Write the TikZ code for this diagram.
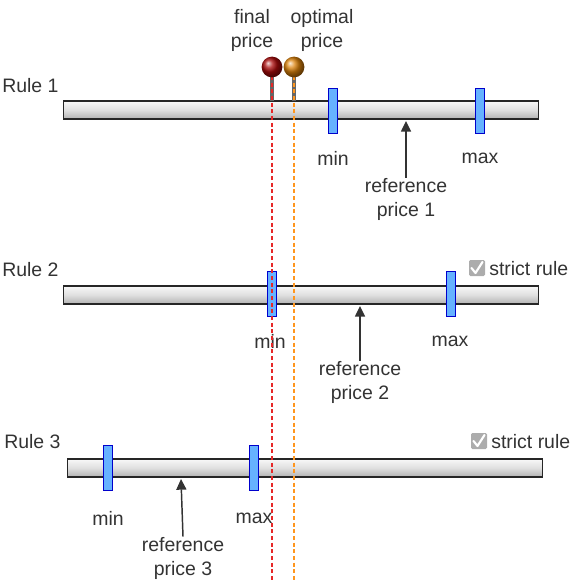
\documentclass[tikz,border=0pt]{standalone}
\usepackage{fontspec}
\setmainfont{Liberation Sans}
\usetikzlibrary{arrows.meta,shadings}
\definecolor{txt}{RGB}{51,51,51}
\definecolor{mfill}{RGB}{102,178,255}
\definecolor{mdraw}{RGB}{0,0,204}
\definecolor{redl}{RGB}{230,40,40}
\definecolor{orgl}{RGB}{255,150,30}
\tikzset{
  lbl/.style={text=txt,font=\fontsize{14.6}{18}\selectfont,inner sep=0pt,align=center},
  barbox/.style={draw=black!85,line width=0.9pt,top color=gray!5,bottom color=gray!60,middle color=gray!25,minimum height=13.5pt,inner sep=0pt,anchor=west},
  marker/.style={draw=mdraw,fill=mfill,line width=0.9pt,minimum width=7pt,minimum height=34pt,inner sep=0pt},
  refarrow/.style={draw=black!80,line width=1.1pt,-{Triangle[width=7.5pt,length=8pt]}},
  chk/.style={fill=gray!65,rounded corners=1pt,minimum size=12pt,inner sep=0pt},
}
\begin{document}
\begin{tikzpicture}[x=0.75pt,y=-0.75pt]
\useasboundingbox (0,0) rectangle (576,581);
% ---------- Rule 1
\node[lbl,anchor=west] (r1) at (2,86) {Rule 1};
\node[barbox,minimum width=356pt] (b1) at (63,110) {};
\node[marker] (m1a) at (333,111) {};
\node[marker] (m1b) at (480,111) {};
\node[lbl] (min1) at (333,158) {min};
\node[lbl] (max1) at (480,158) {max};
\node[lbl] (ref1) at (406,199) {reference\\price 1};
\coordinate (t1) at (406,121);
\draw[refarrow] (ref1.north) -- (t1);
% ---------- Rule 2
\node[lbl,anchor=west] (r2) at (2,270) {Rule 2};
\node[barbox,minimum width=356pt] (b2) at (63,295) {};
\node[marker] (m2a) at (272,294) {};
\node[marker] (m2b) at (451,294) {};
\node[lbl] (min2) at (270,341) {min};
\node[lbl] (max2) at (450,341) {max};
\node[lbl] (ref2) at (360,382) {reference\\price 2};
\coordinate (t2) at (360,306);
\draw[refarrow] (ref2.north) -- (t2);
\node[chk] (c2) at (477,268) {};
\draw[white,line width=1.6pt,line cap=round,line join=round] (471.5,268) -- (475.5,273) -- (482.5,262);
\node[lbl,anchor=west] (s2) at (489,269) {strict rule};
% ---------- Rule 3
\node[lbl,anchor=west] (r3) at (4,442) {Rule 3};
\node[barbox,minimum width=356pt] (b3) at (67,468) {};
\node[marker] (m3a) at (108,468) {};
\node[marker] (m3b) at (254,468) {};
\node[lbl] (min3) at (108,518) {min};
\node[lbl] (max3) at (254,518) {max};
\node[lbl] (ref3) at (183,558) {reference\\price 3};
\coordinate (t3) at (181,479);
\draw[refarrow] (ref3.north) -- (t3);
\node[chk] (c3) at (479,441) {};
\draw[white,line width=1.6pt,line cap=round,line join=round] (473.5,441) -- (477.5,446) -- (484.5,435);
\node[lbl,anchor=west] (s3) at (491,442) {strict rule};
% ---------- pins
\node[lbl] (fp) at (252,30) {final\\price};
\node[lbl] (op) at (322,30) {optimal\\price};
\coordinate (fbot) at (272,581);
\coordinate (obot) at (294,581);
% stems
\draw[gray!80!black,line width=3.2pt] (272,70) -- (272,101);
\draw[gray!80!black,line width=3.2pt] (294,70) -- (294,101);
\draw[redl,line width=1.1pt,dash pattern=on 3pt off 2pt] (272,76) -- (fbot);
\draw[orgl,line width=1.1pt,dash pattern=on 3pt off 2pt] (294,76) -- (obot);
\shade[ball color={rgb,255:red,170;green,10;blue,10}] (272,67) circle (7.8pt);
\shade[ball color={rgb,255:red,220;green,130;blue,10}] (294,67) circle (7.8pt);
\node[inner sep=0pt,minimum size=15.6pt] (fpin) at (272,67) {};
\node[inner sep=0pt,minimum size=15.6pt] (opin) at (294,67) {};
\end{tikzpicture}
\end{document}
